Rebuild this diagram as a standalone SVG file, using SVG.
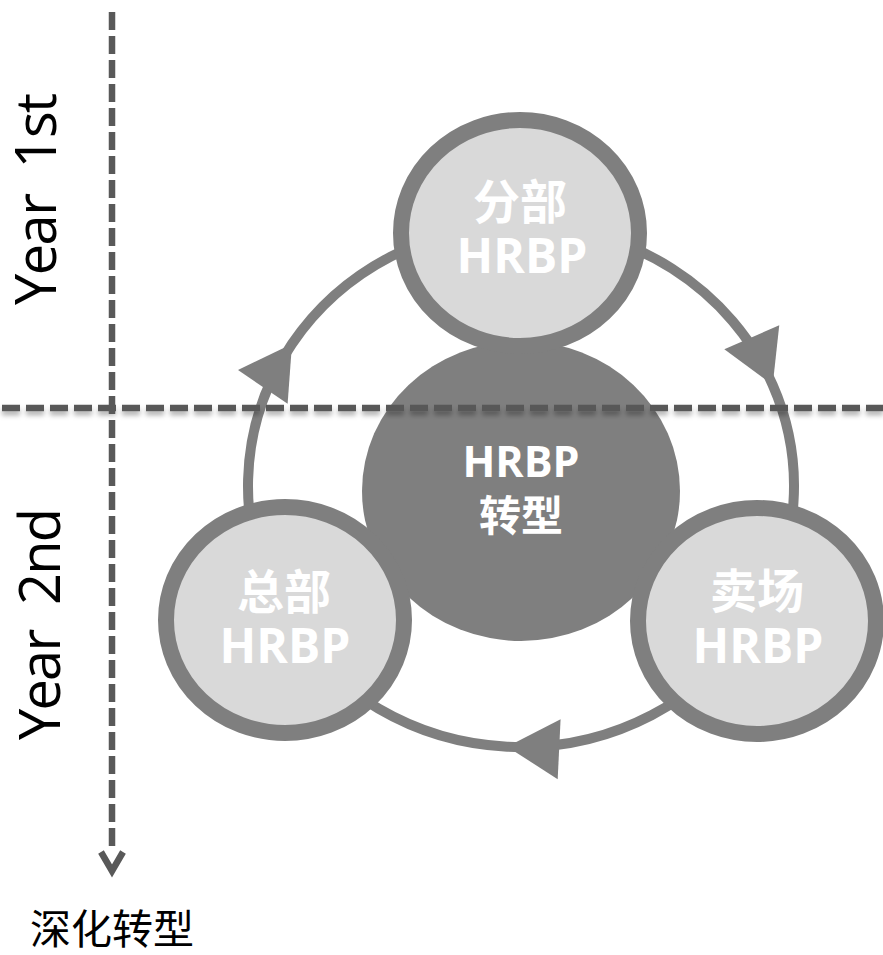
<svg xmlns="http://www.w3.org/2000/svg" width="883" height="955" viewBox="0 0 883 955">
  <defs>
    <style>
      .ring { fill: none; stroke: #7F7F7F; stroke-width: 10; marker-mid: url(#tri); }
      .node { fill: #D9D9D9; stroke: #7F7F7F; stroke-width: 16; }
      .hub { fill: #7F7F7F; }
      .label { fill: #FFFFFF; font-family: "Open Sans", "Noto Sans CJK SC", sans-serif; font-weight: bold; text-anchor: middle; }
      .cjk { font-family: "Noto Sans CJK SC", sans-serif; }
      .axis { fill: none; stroke: #595959; stroke-width: 6.5; stroke-dasharray: 18 6; }
      .year { fill: #000000; font-family: "Open Sans", "Noto Sans", sans-serif; font-size: 56px; }
    </style>
    <marker id="tri" markerUnits="userSpaceOnUse" orient="auto" refX="0" refY="0" markerWidth="1" markerHeight="1" overflow="visible">
      <path d="M0,0 L-52,-30 L-52,30 Z" fill="#7F7F7F"/>
    </marker>
    <filter id="shadow" filterUnits="userSpaceOnUse" x="0" y="390" width="883" height="40">
      <feDropShadow dx="0" dy="4" stdDeviation="2.5" flood-color="#000000" flood-opacity="0.3"/>
    </filter>
  </defs>

  <rect width="883" height="955" fill="#FFFFFF"/>

  <!-- cycle arcs, arrowhead at the middle vertex of each -->
  <g id="connectors">
    <path class="ring" d="M521,225 A273,261 0 0 1 772.7,384.9 A273,261 0 0 1 757.4,616.5"/>
    <path class="ring" d="M757.4,616.5 A273,261 0 0 1 507.2,746.7 A273,261 0 0 1 284.6,616.5"/>
    <path class="ring" d="M284.6,616.5 A273,261 0 0 1 292,343.9 A273,261 0 0 1 521,225"/>
  </g>

  <g id="hub">
    <ellipse class="hub" cx="521" cy="491" rx="159" ry="150"/>
    <text class="label" x="521" y="477" font-size="43">HRBP</text>
    <text class="label cjk" x="521" y="531" font-size="42">转型</text>
  </g>

  <g id="branch">
    <ellipse class="node" cx="520" cy="233" rx="119" ry="113"/>
    <text class="label cjk" x="520" y="219" font-size="47">分部</text>
    <text class="label" x="522" y="273" font-size="48">HRBP</text>
  </g>

  <g id="headquarters">
    <ellipse class="node" cx="285" cy="620" rx="119" ry="113"/>
    <text class="label cjk" x="284" y="609" font-size="47">总部</text>
    <text class="label" x="285" y="663" font-size="48">HRBP</text>
  </g>

  <g id="store">
    <ellipse class="node" cx="757" cy="621" rx="119" ry="113"/>
    <text class="label cjk" x="757" y="608" font-size="47">卖场</text>
    <text class="label" x="758" y="663" font-size="48">HRBP</text>
  </g>

  <!-- timeline axes -->
  <g id="axes">
    <line class="axis" x1="2" y1="408" x2="883" y2="408" filter="url(#shadow)"/>
    <line class="axis" x1="112" y1="12" x2="112" y2="848"/>
    <polyline points="101,852 112,871 123,852" fill="none" stroke="#595959" stroke-width="6.5"/>
    <text class="year" xml:space="preserve" transform="translate(56,305) rotate(-90)" textLength="212" lengthAdjust="spacing">Year  1st</text>
    <text class="year" xml:space="preserve" transform="translate(60,740) rotate(-90)" textLength="232" lengthAdjust="spacing">Year  2nd</text>
    <text x="30" y="944" font-family="Noto Sans CJK SC, sans-serif" font-size="41" fill="#000000">深化转型</text>
  </g>
</svg>
